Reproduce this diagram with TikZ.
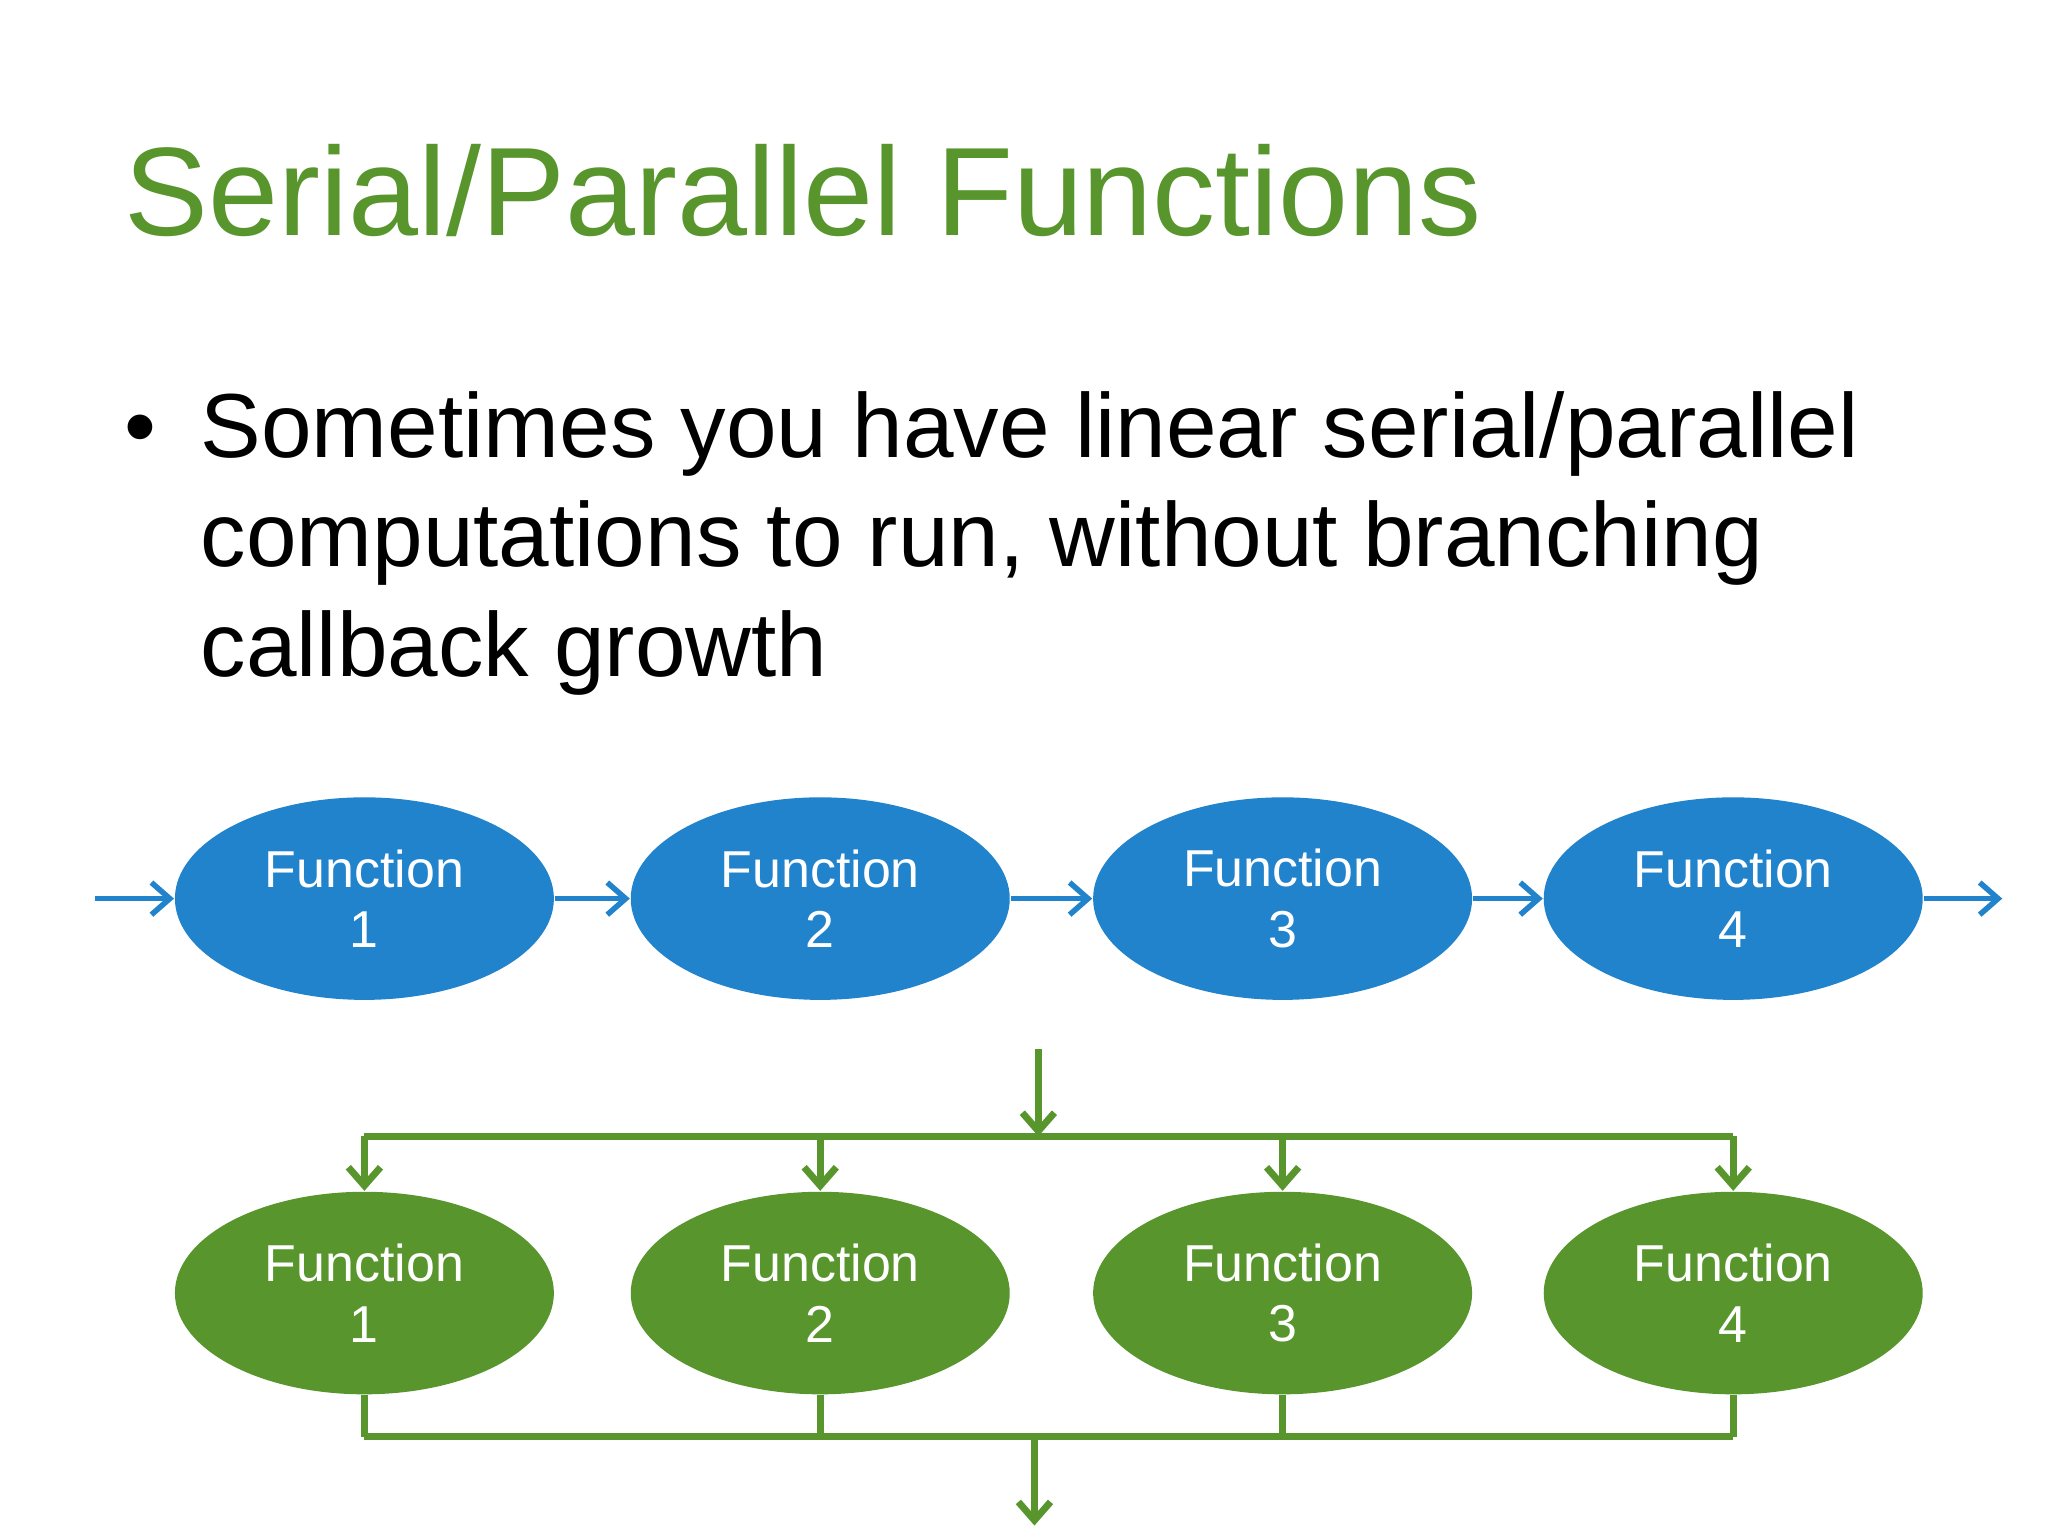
\documentclass[tikz,border=0pt]{standalone}
\usepackage{fontspec}
\setmainfont{Liberation Sans}
\definecolor{tgreen}{RGB}{88,150,45}
\definecolor{tblue}{RGB}{33,131,204}
\usetikzlibrary{arrows.meta,shapes.geometric}
\begin{document}
\begin{tikzpicture}[x=0.01cm,y=-0.01cm,
  fn/.style={ellipse,minimum width=2.9cm,minimum height=1.55cm,inner sep=0pt,text=white,font=\fontsize{11.3}{13.2}\selectfont,align=center},
  bfn/.style={fn,fill=tblue},
  gfn/.style={fn,fill=tgreen},
  barr/.style={draw=tblue,line width=1.2pt,-{Straight Barb[length=4pt,width=7pt]}},
  gline/.style={draw=tgreen,line width=1.5pt},
  garr/.style={gline,-{Straight Barb[length=4pt,width=7pt]}}]
\useasboundingbox (0,0) rectangle (1568,1176);
\node[anchor=base west,text=tgreen,font=\fontsize{27.4}{32}\selectfont,inner sep=0pt] (title) at (95,180) {Serial/Parallel Functions};
\node[anchor=base west,inner sep=0pt] (bul) at (95,350) {\fontsize{19.8}{24}\selectfont\textbullet};
\node[anchor=base west,inner sep=0pt,align=left,font=\fontsize{19.8}{24}\selectfont] (txt) at (153,350) {Sometimes you have linear serial/parallel};
\node[anchor=base west,inner sep=0pt,font=\fontsize{19.8}{24}\selectfont] (txt2) at (153,434) {computations to run, without branching};
\node[anchor=base west,inner sep=0pt,font=\fontsize{19.8}{24}\selectfont] (txt3) at (153,518) {callback growth};
\foreach \i/\x in {1/279,2/628,3/982,4/1327}{
  \node[bfn] (b\i) at (\x,688) {Function\\\i};
  \node[gfn] (g\i) at (\x,990) {Function\\\i};
}
\coordinate (bin) at (73,688);
\coordinate (bout) at (1533,688);
\draw[barr] (bin) -- (b1.west);
\draw[barr] (b1.east) -- (b2.west);
\draw[barr] (b2.east) -- (b3.west);
\draw[barr] (b3.east) -- (b4.west);
\draw[barr] (b4.east) -- (bout);
\coordinate (gin) at (795,803);
\coordinate (gsplit) at (795,870);
\draw[garr] (gin) -- (gsplit);
\draw[gline] (279,870) -- (1327,870);
\foreach \i/\x in {1/279,2/628,3/982,4/1327}{
  \coordinate (t\i) at (\x,870);
  \coordinate (u\i) at (\x,1100);
  \draw[garr] (t\i) -- (g\i.north);
  \draw[gline] (g\i.south) -- (u\i);
}
\draw[gline] (u1) -- (u4);
\coordinate (gj) at (792,1100);
\coordinate (gout) at (792,1168);
\draw[garr] (gj) -- (gout);
\end{tikzpicture}
\end{document}
